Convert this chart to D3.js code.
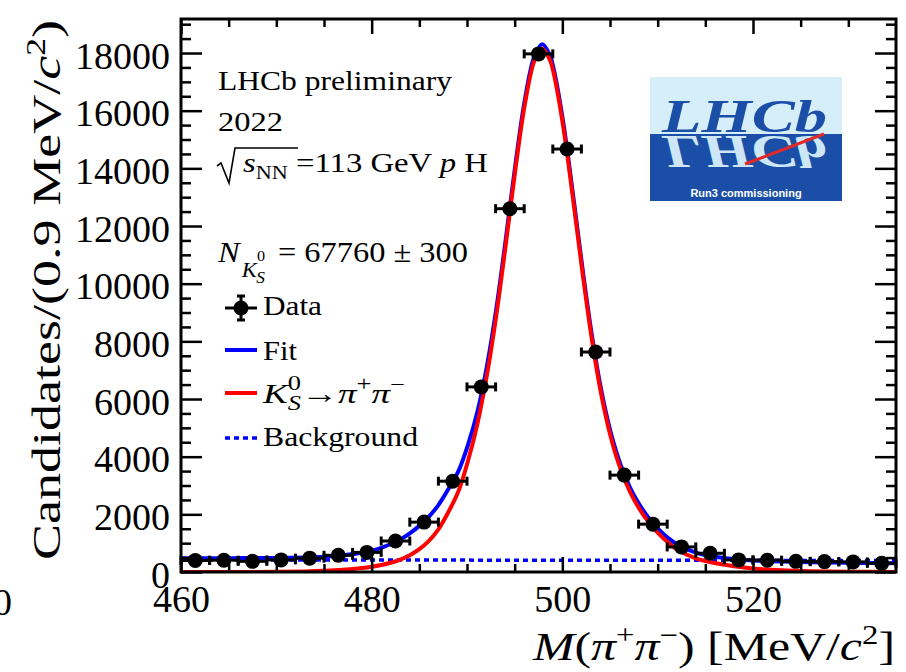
<!DOCTYPE html>
<html>
<head>
<meta charset="utf-8">
<script src="https://cdn.jsdelivr.net/npm/d3@7"></script>
<style>
  body { margin: 0; background: #fff; }
  svg { display: block; }
</style>
</head>
<body>
<script>
// K0S -> pi+ pi- invariant-mass spectrum with fit components

// Binned data (bin centres in MeV/c^2, candidates per bin)
const binCentres = [461.5, 464.5, 467.5, 470.5, 473.5, 476.5, 479.5, 482.5, 485.5, 488.5,
                    491.5, 494.5, 497.5, 500.5, 503.5, 506.5, 509.5, 512.5, 515.5, 518.5,
                    521.5, 524.5, 527.5, 530.5, 533.5];
const candidates = [400, 410, 370, 420, 480, 580, 680, 1075, 1730, 3150,
                    6420, 12600, 17970, 14670, 7630, 3360, 1660, 870, 650, 420,
                    410, 370, 360, 350, 300];
const binHalfWidth = 1.5;

// Fit curves sampled along the mass axis
const curveMass = [460, 465, 470, 473, 475, 477, 479, 480, 481, 482, 483, 484, 485, 486, 487, 488,
                   489.1, 490.1, 491.1, 492.1, 493.1, 494.1, 495.1, 496.1, 497.1, 497.9, 498.7, 499.1,
                   500.1, 501.1, 502.1, 503.1, 504.1, 505.1, 506.1, 507.1, 508.1, 509.1, 510.1, 511.1,
                   512.1, 514, 516, 518, 520, 523, 526, 530, 535];
const fitTotal = [480, 481, 486, 505, 530, 580, 665, 740, 840, 970, 1130, 1340, 1600, 1920, 2320, 2850,
                  3500, 4410, 5570, 7160, 9190, 11630, 14190, 16440, 17910, 18300, 17910, 17440,
                  15590, 13150, 10570, 8210, 6280, 4810, 3730, 2930, 2330, 1860, 1480, 1180,
                  945, 670, 530, 450, 400, 360, 340, 317, 304];
const signalK0S = [0, 1, 6, 20, 40, 75, 135, 180, 240, 320, 430, 580, 790, 1080, 1480, 2050,
                   2800, 3850, 5150, 6850, 8960, 11440, 14020, 16280, 17760, 18150, 17760, 17290,
                   15440, 13000, 10420, 8060, 6130, 4660, 3580, 2780, 2180, 1710, 1330, 1020,
                   770, 470, 310, 200, 120, 60, 30, 12, 4];
const bkgMass = [460, 535];
const bkgLevel = [420, 400];

// Axis ticks
const xMajorTicks = [460, 480, 500, 520];
const xMinorTicks = [465, 470, 475, 485, 490, 495, 505, 510, 515, 525, 530];
const yMajorTicks = [0, 2000, 4000, 6000, 8000, 10000, 12000, 14000, 16000, 18000];
const yMinorTicks = d3.range(500, 19180, 500).filter(v => v % 2000 !== 0);

const W = 906, H = 672;
const serif = "'Liberation Serif', 'Times New Roman', serif";
const svg = d3.select("body").append("svg").attr("width", W).attr("height", H)
  .style("font-family", serif);

const frame = { left: 181, right: 896, top: 19, bottom: 572 };
const x = d3.scaleLinear().domain([460, 535]).range([frame.left, frame.right]);
const y = d3.scaleLinear().domain([0, 19180]).range([frame.bottom, frame.top]);

svg.append("clipPath").attr("id", "plotArea")
  .append("rect").attr("x", frame.left).attr("y", frame.top)
  .attr("width", frame.right - frame.left).attr("height", frame.bottom - frame.top);

// stretch a text run to a given advance width
const fitWidth = (sel, w) => sel.attr("textLength", w).attr("lengthAdjust", "spacingAndGlyphs");

// ---- curves ----
const curvePts = (vals) => curveMass.map((m, i) => [m, vals[i]]);
const line = d3.line().x(d => x(d[0])).y(d => y(d[1])).curve(d3.curveCatmullRom.alpha(0.5));
const plot = svg.append("g").attr("clip-path", "url(#plotArea)");

plot.append("path").datum(bkgMass.map((m, i) => [m, bkgLevel[i]]))
  .attr("d", d3.line().x(d => x(d[0])).y(d => y(d[1])))
  .attr("fill", "none").attr("stroke", "#0000ff").attr("stroke-width", 3.5)
  .attr("stroke-dasharray", "5,4");
plot.append("path").datum(curvePts(fitTotal)).attr("d", line)
  .attr("fill", "none").attr("stroke", "#0000ff").attr("stroke-width", 4);
plot.append("path").datum(curvePts(signalK0S)).attr("d", line)
  .attr("fill", "none").attr("stroke", "#ff0000").attr("stroke-width", 4);

// ---- data points ----
const pts = svg.append("g").attr("stroke", "#000").attr("stroke-width", 3);
binCentres.forEach((c, i) => {
  const cx = x(c), cy = y(candidates[i]);
  const xl = x(c - binHalfWidth), xr = x(c + binHalfWidth);
  const err = Math.sqrt(candidates[i]);
  const yt = y(candidates[i] + err), yb = y(candidates[i] - err);
  pts.append("line").attr("x1", xl).attr("x2", xr).attr("y1", cy).attr("y2", cy);
  pts.append("line").attr("x1", xl).attr("x2", xl).attr("y1", cy - 4.5).attr("y2", cy + 4.5);
  pts.append("line").attr("x1", xr).attr("x2", xr).attr("y1", cy - 4.5).attr("y2", cy + 4.5);
  pts.append("line").attr("x1", cx).attr("x2", cx).attr("y1", yt).attr("y2", yb);
  pts.append("line").attr("x1", cx - 4).attr("x2", cx + 4).attr("y1", yt).attr("y2", yt);
  pts.append("line").attr("x1", cx - 4).attr("x2", cx + 4).attr("y1", yb).attr("y2", yb);
  pts.append("circle").attr("cx", cx).attr("cy", cy).attr("r", 7.5).attr("fill", "#000").attr("stroke", "none");
});

// ---- axes ----
function styleAxis(g, fontSize) {
  g.select(".domain").remove();
  g.selectAll(".tick line").attr("stroke", "#000").attr("stroke-width", 2.5);
  g.selectAll(".tick text").attr("fill", "#000").style("font-family", serif).style("font-size", fontSize + "px");
}
const yAxisMajor = svg.append("g").attr("transform", `translate(${frame.left},0)`)
  .call(d3.axisLeft(y).tickValues(yMajorTicks).tickSizeInner(-21).tickSizeOuter(0).tickPadding(11).tickFormat(d3.format("d")));
styleAxis(yAxisMajor, 38);
yAxisMajor.selectAll(".tick text").attr("dy", "0.4em");
const yAxisMinor = svg.append("g").attr("transform", `translate(${frame.left},0)`)
  .call(d3.axisLeft(y).tickValues(yMinorTicks).tickSizeInner(-10).tickSizeOuter(0).tickFormat(""));
styleAxis(yAxisMinor, 10);
const yRightMajor = svg.append("g").attr("transform", `translate(${frame.right},0)`)
  .call(d3.axisRight(y).tickValues(yMajorTicks).tickSizeInner(-21).tickSizeOuter(0).tickFormat(""));
styleAxis(yRightMajor, 10);
const yRightMinor = svg.append("g").attr("transform", `translate(${frame.right},0)`)
  .call(d3.axisRight(y).tickValues(yMinorTicks).tickSizeInner(-10).tickSizeOuter(0).tickFormat(""));
styleAxis(yRightMinor, 10);

const xAxisMajor = svg.append("g").attr("transform", `translate(0,${frame.bottom})`)
  .call(d3.axisBottom(x).tickValues(xMajorTicks).tickSizeInner(-15).tickSizeOuter(0).tickPadding(13).tickFormat(d3.format("d")));
styleAxis(xAxisMajor, 38);
const xAxisMinor = svg.append("g").attr("transform", `translate(0,${frame.bottom})`)
  .call(d3.axisBottom(x).tickValues(xMinorTicks).tickSizeInner(-8).tickSizeOuter(0).tickFormat(""));
styleAxis(xAxisMinor, 10);
const xTopMajor = svg.append("g").attr("transform", `translate(0,${frame.top})`)
  .call(d3.axisTop(x).tickValues(xMajorTicks).tickSizeInner(-15).tickSizeOuter(0).tickFormat(""));
styleAxis(xTopMajor, 10);
const xTopMinor = svg.append("g").attr("transform", `translate(0,${frame.top})`)
  .call(d3.axisTop(x).tickValues(xMinorTicks).tickSizeInner(-8).tickSizeOuter(0).tickFormat(""));
styleAxis(xTopMinor, 10);

svg.append("rect").attr("x", frame.left).attr("y", frame.top)
  .attr("width", frame.right - frame.left).attr("height", frame.bottom - frame.top)
  .attr("fill", "none").attr("stroke", "#000").attr("stroke-width", 3);

// ---- axis titles ----
const yTitle = svg.append("text").attr("transform", "translate(60,20) rotate(-90)")
  .attr("text-anchor", "end").style("font-size", "41px");
yTitle.append("tspan").text("Candidates/(0.9 MeV/");
yTitle.append("tspan").style("font-style", "italic").text("c");
yTitle.append("tspan").attr("dy", -15).style("font-size", "27px").text("2");
yTitle.append("tspan").attr("dy", 15).text(")");
fitWidth(yTitle, 540);

const xTitle = svg.append("text").attr("x", 895).attr("y", 660)
  .attr("text-anchor", "end").style("font-size", "41px");
xTitle.append("tspan").style("font-style", "italic").text("M");
xTitle.append("tspan").text("(");
xTitle.append("tspan").style("font-style", "italic").text("π");
xTitle.append("tspan").attr("dy", -16).style("font-size", "27px").text("+");
xTitle.append("tspan").attr("dy", 16).style("font-style", "italic").text("π");
xTitle.append("tspan").attr("dy", -16).style("font-size", "27px").text("−");
xTitle.append("tspan").attr("dy", 16).text(") [MeV/");
xTitle.append("tspan").style("font-style", "italic").text("c");
xTitle.append("tspan").attr("dy", -16).style("font-size", "27px").text("2");
xTitle.append("tspan").attr("dy", 16).text("]");
fitWidth(xTitle, 362);

// edge of a neighbouring label
svg.append("text").attr("x", -7).attr("y", 615).style("font-size", "38px").text("0");

// ---- annotation block ----
const fs = 28;
fitWidth(svg.append("text").attr("x", 218).attr("y", 90).style("font-size", fs + "px").text("LHCb preliminary"), 234);
fitWidth(svg.append("text").attr("x", 218).attr("y", 131).style("font-size", fs + "px").text("2022"), 65);
svg.append("path").attr("d", "M217,166 L221,163 L229,183 L235,148 L298,148")
  .attr("fill", "none").attr("stroke", "#000").attr("stroke-width", 1.6);
const sq = svg.append("text").attr("x", 243).attr("y", 172).style("font-size", fs + "px");
sq.append("tspan").style("font-style", "italic").text("s");
sq.append("tspan").attr("dy", 7).style("font-size", "19px").text("NN");
sq.append("tspan").attr("dy", -7).text(" =113 GeV ");
sq.append("tspan").style("font-style", "italic").text("p");
sq.append("tspan").text(" H");
fitWidth(sq, 245);

const nk = svg.append("text").attr("x", 218).attr("y", 262).style("font-size", "30px");
nk.append("tspan").style("font-style", "italic").text("N");
nk.append("tspan").attr("dy", 15).attr("dx", 2).style("font-size", "21px").style("font-style", "italic").text("K");
nk.append("tspan").attr("dy", -16).style("font-size", "15px").text("0");
nk.append("tspan").attr("dy", 22).attr("dx", -8).style("font-size", "16px").style("font-style", "italic").text("S");
nk.append("tspan").attr("dy", -21).attr("dx", 12).text("= 67760 ± 300");
fitWidth(nk, 250);

// ---- legend ----
const lg = svg.append("g");
const lx0 = 225, lx1 = 257;
// Data
lg.append("line").attr("x1", lx0).attr("x2", lx1).attr("y1", 308).attr("y2", 308).attr("stroke", "#000").attr("stroke-width", 3);
lg.append("line").attr("x1", 241).attr("x2", 241).attr("y1", 296).attr("y2", 320).attr("stroke", "#000").attr("stroke-width", 3);
lg.append("line").attr("x1", 237).attr("x2", 245).attr("y1", 296).attr("y2", 296).attr("stroke", "#000").attr("stroke-width", 3);
lg.append("line").attr("x1", 237).attr("x2", 245).attr("y1", 320).attr("y2", 320).attr("stroke", "#000").attr("stroke-width", 3);
lg.append("circle").attr("cx", 241).attr("cy", 308).attr("r", 7.5).attr("fill", "#000");
fitWidth(lg.append("text").attr("x", 263).attr("y", 315).style("font-size", fs + "px").text("Data"), 59);
// Fit
lg.append("line").attr("x1", lx0).attr("x2", lx1).attr("y1", 350).attr("y2", 350).attr("stroke", "#0000ff").attr("stroke-width", 4);
fitWidth(lg.append("text").attr("x", 263).attr("y", 360).style("font-size", fs + "px").text("Fit"), 34);
// Signal
lg.append("line").attr("x1", lx0).attr("x2", lx1).attr("y1", 393).attr("y2", 393).attr("stroke", "#ff0000").attr("stroke-width", 4);
const sg = lg.append("text").attr("x", 263).attr("y", 403).style("font-size", fs + "px");
sg.append("tspan").style("font-style", "italic").text("K");
sg.append("tspan").attr("dy", -13).style("font-size", "20px").text("0");
sg.append("tspan").attr("dy", 20).attr("dx", -10).style("font-size", "20px").style("font-style", "italic").text("S");
sg.append("tspan").attr("dy", -7).text("→");
sg.append("tspan").style("font-style", "italic").text("π");
sg.append("tspan").attr("dy", -12).style("font-size", "20px").text("+");
sg.append("tspan").attr("dy", 12).style("font-style", "italic").text("π");
sg.append("tspan").attr("dy", -12).style("font-size", "20px").text("−");
fitWidth(sg, 142);
// Background
lg.append("line").attr("x1", lx0).attr("x2", lx1).attr("y1", 438).attr("y2", 438).attr("stroke", "#0000ff").attr("stroke-width", 3.5).attr("stroke-dasharray", "5,4");
fitWidth(lg.append("text").attr("x", 263).attr("y", 446).style("font-size", fs + "px").text("Background"), 155);

// ---- experiment logo ----
const logo = svg.append("g");
const lgx = 650, lgy = 77, lgw = 192, lgh = 124, split = 134;
logo.append("clipPath").attr("id", "logoLower").append("rect")
  .attr("x", lgx).attr("y", split).attr("width", lgw).attr("height", lgy + lgh - split);
logo.append("rect").attr("x", lgx).attr("y", lgy).attr("width", lgw).attr("height", split - lgy).attr("fill", "#d5eef9");
logo.append("rect").attr("x", lgx).attr("y", split).attr("width", lgw).attr("height", lgy + lgh - split).attr("fill", "#1b4fa7");
fitWidth(logo.append("text").attr("x", 662).attr("y", split - 2)
  .style("font-size", "46px").style("font-style", "italic").style("font-weight", "bold")
  .attr("fill", "#1b4fa7").text("LHCb"), 165);
const mirror = logo.append("g").attr("clip-path", "url(#logoLower)");
fitWidth(mirror.append("text").attr("x", 662).attr("y", split - 2)
  .attr("transform", `translate(0,${2 * split}) scale(1,-1)`)
  .style("font-size", "46px").style("font-style", "italic").style("font-weight", "bold")
  .attr("fill", "#cde7f6").text("LHCb"), 165);
logo.append("line").attr("x1", 745).attr("y1", 164).attr("x2", 824).attr("y2", 134)
  .attr("stroke", "#e02a2a").attr("stroke-width", 3);
logo.append("text").attr("x", 746).attr("y", 197).attr("text-anchor", "middle")
  .style("font-family", "'Liberation Sans', Arial, sans-serif").style("font-weight", "bold")
  .style("font-size", "11px").attr("fill", "#fff").text("Run3 commissioning");
</script>
</body>
</html>
